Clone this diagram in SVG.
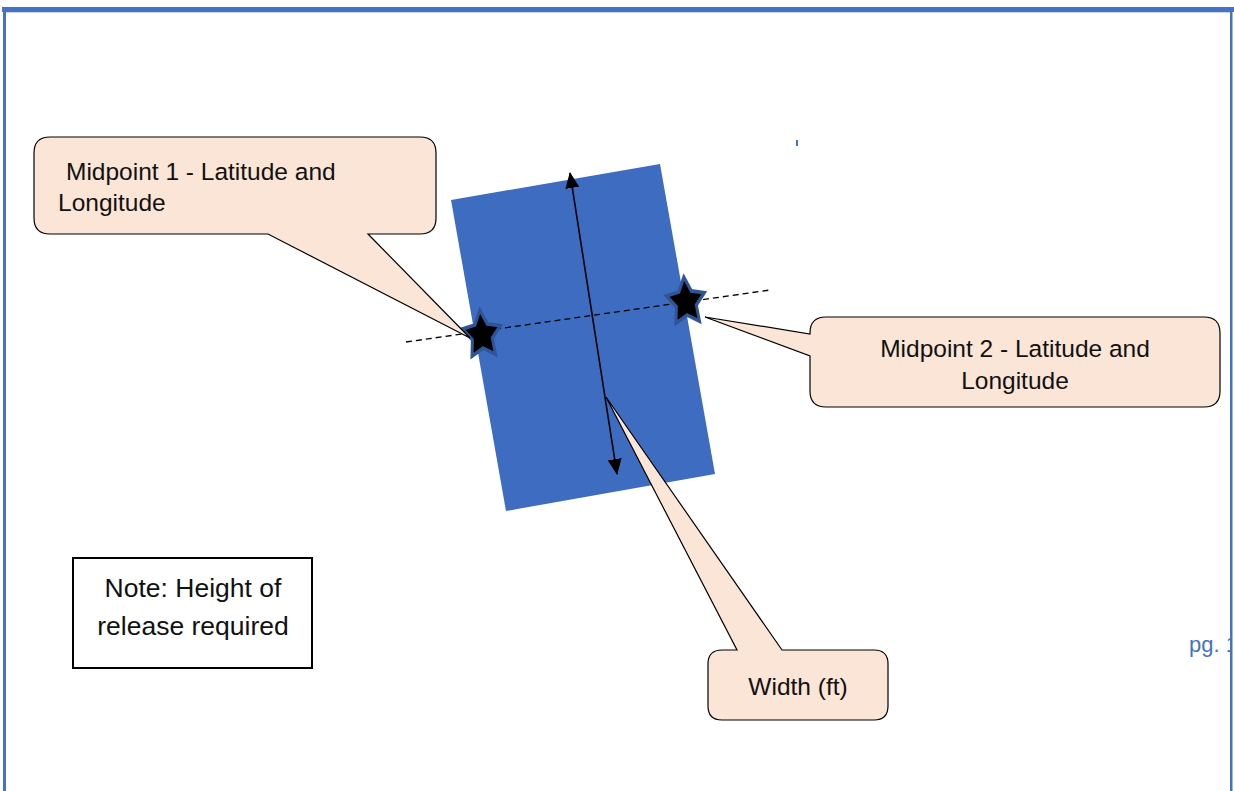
<svg xmlns="http://www.w3.org/2000/svg" width="1234" height="791" viewBox="0 0 1234 791">
  <defs>
    <style>
      .callout { fill: #FBE5D6; stroke: #000; stroke-width: 1.2; }
      .txt { font-family: "Liberation Sans", Arial, sans-serif; fill: #111; }
      .star { fill: #000; stroke: #2F5597; stroke-width: 3; stroke-linejoin: miter; }
    </style>
    <marker id="arrow" markerWidth="16" markerHeight="16" refX="15" refY="8" orient="auto-start-reverse" markerUnits="userSpaceOnUse" viewBox="0 0 16 16">
      <path d="M0,1 L16,8 L0,15 Z" fill="#000"/>
    </marker>
    <polygon id="starShape" points="0,-20 6.2,-8.5 19,-6.2 10,3.2 11.8,16.2 0,10.5 -11.8,16.2 -10,3.2 -19,-6.2 -6.2,-8.5"/>
    <clipPath id="pageClip">
      <rect x="0" y="0" width="1230" height="791"/>
    </clipPath>
  </defs>

  <rect x="0" y="0" width="1234" height="791" fill="#fff"/>

  <!-- page frame -->
  <g id="frame">
    <rect x="2" y="7" width="1232" height="5" fill="#4472C4"/>
    <line x1="6" y1="12.5" x2="1230" y2="12.5" stroke="#C9D6EE" stroke-width="1"/>
    <rect x="3" y="7" width="3" height="784" fill="#4472C4"/>
    <line x1="797" y1="140" x2="797" y2="146" stroke="#4472C4" stroke-width="2"/>
  </g>

  <!-- blue area -->
  <g id="area">
    <polygon points="451,200 660,164 715,474 506,511" fill="#3E6CC0"/>
  </g>

  <!-- connectors -->
  <g id="connectors">
    <line x1="570" y1="173" x2="617" y2="474" stroke="#000" stroke-width="1.6" marker-start="url(#arrow)" marker-end="url(#arrow)"/>
    <line x1="406" y1="342" x2="770" y2="290" stroke="#000" stroke-width="1.3" stroke-dasharray="6 4"/>
  </g>

  <!-- midpoint stars -->
  <g id="star1">
    <use href="#starShape" class="star" transform="translate(482,335) rotate(-5) scale(1.0,1.25)"/>
  </g>
  <g id="star2">
    <use href="#starShape" class="star" transform="translate(686,302) rotate(-5) scale(1.0,1.25)"/>
  </g>

  <!-- callout: Midpoint 1 -->
  <g id="callout-midpoint1">
    <path class="callout" d="M50,137 H420 Q436,137 436,153 V218 Q436,234 420,234 H368 L470,338 L268,234 H50 Q34,234 34,218 V153 Q34,137 50,137 Z"/>
    <text class="txt" x="66" y="180" font-size="24.5">Midpoint 1 - Latitude and</text>
    <text class="txt" x="58" y="211" font-size="24.5">Longitude</text>
  </g>

  <!-- callout: Midpoint 2 -->
  <g id="callout-midpoint2">
    <path class="callout" d="M826,317 H1204 Q1220,317 1220,333 V391 Q1220,407 1204,407 H826 Q810,407 810,391 V356 L705,317 L810,334 V333 Q810,317 826,317 Z"/>
    <text class="txt" x="1015" y="357" font-size="24.5" text-anchor="middle">Midpoint 2 - Latitude and</text>
    <text class="txt" x="1015" y="389" font-size="24.5" text-anchor="middle">Longitude</text>
  </g>

  <!-- callout: Width -->
  <g id="callout-width">
    <path class="callout" d="M722,650 H737 L606,397 L782,650 H874 Q888,650 888,664 V706 Q888,720 874,720 H722 Q708,720 708,706 V664 Q708,650 722,650 Z"/>
    <text class="txt" x="798" y="695" font-size="24.5" text-anchor="middle">Width (ft)</text>
  </g>

  <!-- note box -->
  <g id="note">
    <rect x="73" y="558" width="239" height="110" fill="#fff" stroke="#000" stroke-width="2"/>
    <text class="txt" x="193" y="597" font-size="26.5" text-anchor="middle">Note: Height of</text>
    <text class="txt" x="193" y="635" font-size="26.5" text-anchor="middle">release required</text>
  </g>

  <!-- page number -->
  <g id="page-number">
    <text x="1189" y="652" font-family="Liberation Sans, Arial, sans-serif" font-size="22" fill="#4472C4" clip-path="url(#pageClip)">pg. 1</text>
    <rect x="1230" y="12" width="2.5" height="779" fill="#4472C4"/>
  </g>
</svg>
